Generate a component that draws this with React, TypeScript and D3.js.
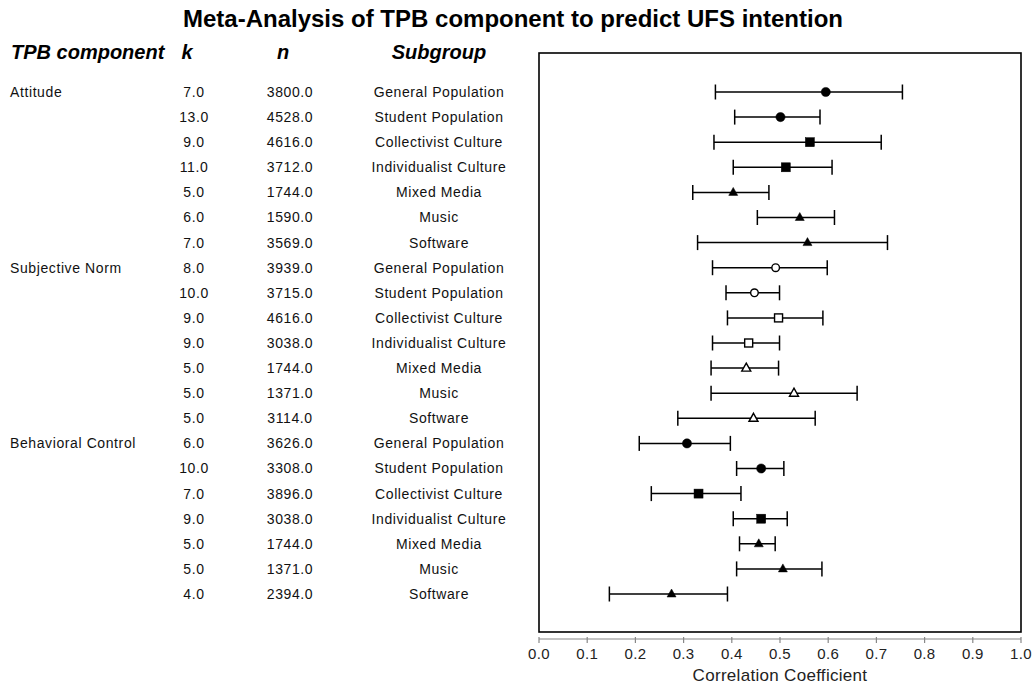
import * as d3 from "d3";

// rows of the forest plot, top to bottom
const components = ["Attitude", "", "", "", "", "", "", "Subjective Norm", "", "", "", "", "", "", "Behavioral Control", "", "", "", "", "", ""];
const groupOf = ["att", "att", "att", "att", "att", "att", "att", "sn", "sn", "sn", "sn", "sn", "sn", "sn", "bc", "bc", "bc", "bc", "bc", "bc", "bc"];
const kValues = [7, 13, 9, 11, 5, 6, 7, 8, 10, 9, 9, 5, 5, 5, 6, 10, 7, 9, 5, 5, 4];
const nValues = [3800, 4528, 4616, 3712, 1744, 1590, 3569, 3939, 3715, 4616, 3038, 1744, 1371, 3114, 3626, 3308, 3896, 3038, 1744, 1371, 2394];
const subgroups = [
  "General Population", "Student Population", "Collectivist Culture", "Individualist Culture", "Mixed Media", "Music", "Software",
  "General Population", "Student Population", "Collectivist Culture", "Individualist Culture", "Mixed Media", "Music", "Software",
  "General Population", "Student Population", "Collectivist Culture", "Individualist Culture", "Mixed Media", "Music", "Software",
];
const estimates = [0.595, 0.501, 0.562, 0.512, 0.403, 0.541, 0.557, 0.491, 0.447, 0.497, 0.435, 0.430, 0.529, 0.445, 0.307, 0.461, 0.331, 0.461, 0.456, 0.506, 0.275];
const lower = [0.366, 0.406, 0.363, 0.403, 0.319, 0.453, 0.329, 0.360, 0.388, 0.391, 0.360, 0.357, 0.357, 0.288, 0.208, 0.410, 0.233, 0.403, 0.416, 0.410, 0.146];
const upper = [0.754, 0.583, 0.710, 0.608, 0.477, 0.613, 0.723, 0.598, 0.499, 0.589, 0.499, 0.497, 0.660, 0.573, 0.397, 0.508, 0.419, 0.515, 0.490, 0.587, 0.391];
const xTicks = [0, 0.1, 0.2, 0.3, 0.4, 0.5, 0.6, 0.7, 0.8, 0.9, 1.0];

const FONT = "'Liberation Sans', Arial, sans-serif";

function markerShape(sub: string) {
  if (sub.includes("Population")) return "circle";
  if (sub.includes("Culture")) return "square";
  return "triangle";
}

export default function App() {
  const W = 1034;
  const H = 686;
  const box = { left: 539, right: 1021, top: 53, bottom: 632 };

  const x = d3.scaleLinear().domain([0, 1]).range([box.left, box.right]);
  const y = d3.scalePoint<number>()
    .domain(d3.range(estimates.length))
    .range([92, 594]);

  const rowText = { fontFamily: FONT, fontSize: 14, letterSpacing: 0.6, fill: "#111" };
  const headText = { fontFamily: FONT, fontSize: 20, fontWeight: "bold" as const, fontStyle: "italic" as const, fill: "#000" };
  const axisY = 639;

  return (
    <svg width={W} height={H} style={{ position: "absolute", left: 0, top: 0, background: "#fff" }}>
      <text x={513} y={27} textAnchor="middle" style={{ fontFamily: FONT, fontSize: 24, fontWeight: "bold", fill: "#000" }}>
        Meta-Analysis of TPB component to predict UFS intention
      </text>

      {/* column headers */}
      <text x={11} y={59} style={headText}>TPB component</text>
      <text x={187} y={59} textAnchor="middle" style={headText}>k</text>
      <text x={283} y={59} textAnchor="middle" style={headText}>n</text>
      <text x={439} y={59} textAnchor="middle" style={headText}>Subgroup</text>

      {/* table rows */}
      {estimates.map((_, i) => (
        <g key={"row" + i} transform={`translate(0,${y(i)})`}>
          {components[i] && <text x={10} dy="0.35em" style={rowText}>{components[i]}</text>}
          <text x={194} dy="0.35em" textAnchor="middle" style={rowText}>{kValues[i].toFixed(1)}</text>
          <text x={290} dy="0.35em" textAnchor="middle" style={rowText}>{nValues[i].toFixed(1)}</text>
          <text x={439} dy="0.35em" textAnchor="middle" style={rowText}>{subgroups[i]}</text>
        </g>
      ))}

      {/* plot frame */}
      <rect x={box.left} y={box.top} width={box.right - box.left} height={box.bottom - box.top} fill="none" stroke="#000" strokeWidth={1.6} />

      {/* error bars and markers */}
      {estimates.map((est, i) => {
        const cy = y(i) as number;
        const cx = x(est);
        const open = groupOf[i] === "sn";
        const fill = open ? "#fff" : "#000";
        const shape = markerShape(subgroups[i]);
        let marker;
        if (shape === "circle") {
          marker = <circle cx={cx} cy={cy} r={open ? 3.8 : 4.6} fill={fill} stroke="#000" strokeWidth={open ? 1.4 : 0.5} />;
        } else if (shape === "square") {
          const s = open ? 8 : 9;
          marker = <rect x={cx - s / 2} y={cy - s / 2} width={s} height={s} fill={fill} stroke="#000" strokeWidth={open ? 1.4 : 0.5} />;
        } else {
          const p = d3.path();
          p.moveTo(cx, cy - 5);
          p.lineTo(cx + 4.5, cy + 3);
          p.lineTo(cx - 4.5, cy + 3);
          p.closePath();
          marker = <path d={p.toString()} fill={fill} stroke="#000" strokeWidth={open ? 1.4 : 0.5} />;
        }
        return (
          <g key={"bar" + i}>
            <line x1={x(lower[i])} x2={x(upper[i])} y1={cy} y2={cy} stroke="#000" strokeWidth={1.5} />
            <line x1={x(lower[i])} x2={x(lower[i])} y1={cy - 7.5} y2={cy + 7.5} stroke="#000" strokeWidth={1.5} />
            <line x1={x(upper[i])} x2={x(upper[i])} y1={cy - 7.5} y2={cy + 7.5} stroke="#000" strokeWidth={1.5} />
            {marker}
          </g>
        );
      })}

      {/* x axis */}
      <line x1={x(0)} x2={x(1)} y1={axisY} y2={axisY} stroke="#888" strokeWidth={1.2} />
      {xTicks.map(t => (
        <g key={"t" + t}>
          <line x1={x(t)} x2={x(t)} y1={axisY - 2} y2={axisY + 4} stroke="#888" strokeWidth={1.2} />
          <text x={x(t)} y={659} textAnchor="middle" style={{ fontFamily: FONT, fontSize: 15, letterSpacing: 0.3, fill: "#222" }}>
            {t.toFixed(1)}
          </text>
        </g>
      ))}
      <text x={x(0.5)} y={681} textAnchor="middle" style={{ fontFamily: FONT, fontSize: 17, letterSpacing: 0.3, fill: "#222" }}>
        Correlation Coefficient
      </text>
    </svg>
  );
}
